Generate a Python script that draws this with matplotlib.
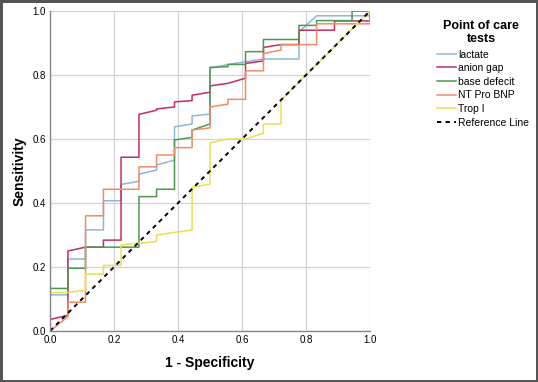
import matplotlib.pyplot as plt

plt.rcParams['font.family'] = ['Liberation Sans', 'DejaVu Sans']

# ROC curve vertices (1 - specificity, sensitivity)
lactate_x = [0, 0, 0.056, 0.056, 0.111, 0.111, 0.167, 0.167, 0.222, 0.222, 0.278, 0.278,
             0.333, 0.333, 0.389, 0.389, 0.444, 0.444, 0.5, 0.5, 0.556, 0.667, 0.778, 0.778,
             0.833, 1.0, 1.0]
lactate_y = [0, 0.113, 0.113, 0.225, 0.225, 0.316, 0.316, 0.407, 0.407, 0.458, 0.468, 0.49,
             0.503, 0.519, 0.534, 0.638, 0.647, 0.672, 0.678, 0.821, 0.833, 0.85, 0.85, 0.935,
             0.985, 0.985, 1.0]

anion_x = [0, 0, 0.056, 0.056, 0.111, 0.167, 0.167, 0.222, 0.222, 0.278, 0.278, 0.333, 0.333,
           0.389, 0.389, 0.444, 0.444, 0.5, 0.5, 0.556, 0.611, 0.611, 0.667, 0.667, 0.722,
           0.778, 0.778, 0.889, 0.889, 1.0, 1.0]
anion_y = [0, 0.036, 0.049, 0.25, 0.262, 0.262, 0.284, 0.284, 0.543, 0.543, 0.677, 0.69, 0.694,
           0.70, 0.716, 0.72, 0.737, 0.746, 0.766, 0.774, 0.79, 0.836, 0.844, 0.886, 0.895,
           0.895, 0.94, 0.94, 0.969, 0.969, 1.0]

base_x = [0, 0, 0.056, 0.056, 0.111, 0.111, 0.278, 0.278, 0.333, 0.333, 0.389, 0.389, 0.444,
          0.444, 0.5, 0.5, 0.556, 0.556, 0.611, 0.611, 0.667, 0.667, 0.778, 0.778, 0.833,
          0.833, 0.944, 0.944, 1.0]
base_y = [0, 0.133, 0.133, 0.196, 0.196, 0.262, 0.262, 0.42, 0.42, 0.443, 0.443, 0.597, 0.605,
          0.628, 0.647, 0.824, 0.826, 0.833, 0.833, 0.873, 0.873, 0.911, 0.911, 0.955, 0.955,
          0.970, 0.970, 1.0, 1.0]

bnp_x = [0, 0.056, 0.056, 0.111, 0.111, 0.167, 0.167, 0.278, 0.278, 0.333, 0.333, 0.389, 0.389,
         0.444, 0.444, 0.5, 0.5, 0.556, 0.556, 0.611, 0.611, 0.667, 0.667, 0.722, 0.722, 0.833,
         0.833, 1.0, 1.0]
bnp_y = [0, 0.045, 0.09, 0.09, 0.36, 0.36, 0.443, 0.443, 0.513, 0.513, 0.55, 0.55, 0.573, 0.573,
         0.628, 0.635, 0.70, 0.709, 0.724, 0.724, 0.813, 0.813, 0.867, 0.878, 0.895, 0.895,
         0.96, 0.96, 1.0]

trop_x = [0, 0, 0.056, 0.111, 0.111, 0.167, 0.167, 0.222, 0.222, 0.278, 0.333, 0.333, 0.444,
          0.444, 0.5, 0.5, 0.556, 0.611, 0.667, 0.667, 0.722, 0.722, 1.0]
trop_y = [0, 0.12, 0.12, 0.128, 0.178, 0.178, 0.205, 0.205, 0.269, 0.274, 0.28, 0.30, 0.316,
          0.449, 0.459, 0.588, 0.60, 0.60, 0.618, 0.647, 0.647, 0.722, 1.0]

ref_x = [0, 1]
ref_y = [0, 1]

fig = plt.figure(figsize=(5.38, 3.82), dpi=100)
fig.patch.set_edgecolor('#555555')
fig.patch.set_linewidth(2.5)
ax = fig.add_axes([50 / 538, 51 / 382, 320 / 538, 320 / 382])

ax.plot(lactate_x, lactate_y, color='#8fb6d8', lw=1.1, label='lactate')
ax.plot(anion_x, anion_y, color='#c0305c', lw=1.1, label='anion gap')
ax.plot(base_x, base_y, color='#4f9850', lw=1.1, label='base defecit')
ax.plot(bnp_x, bnp_y, color='#f08c68', lw=1.1, label='NT Pro BNP')
ax.plot(trop_x, trop_y, color='#e8e050', lw=1.1, label='Trop I')
ax.plot(ref_x, ref_y, color='black', lw=1.4, ls=(0, (2.2, 2.2)), label='Reference Line')

ax.set_xlim(0, 1)
ax.set_ylim(0, 1)
ticks = [0, 0.2, 0.4, 0.6, 0.8, 1.0]
ax.set_xticks(ticks)
ax.set_yticks(ticks)
ax.set_xticklabels([f'{t:.1f}' for t in ticks])
ax.set_yticklabels([f'{t:.1f}' for t in ticks])
ax.tick_params(labelsize=7, length=0, pad=3)
ax.grid(True, color='#d4d4d4', lw=0.9)
ax.set_axisbelow(True)
for s in ['top', 'right']:
    ax.spines[s].set_visible(False)
for s in ['left', 'bottom']:
    ax.spines[s].set_color('#888888')
    ax.spines[s].set_linewidth(1.0)

ax.set_xlabel('1 - Specificity', fontsize=10, fontweight='bold', labelpad=8)
ax.set_ylabel('Sensitivity', fontsize=10, fontweight='bold', labelpad=4)

# legend title drawn separately so its gap to the entries can match
fig.text(481 / 538, 1 - 32.5 / 382, 'Point of care\ntests', ha='center', va='center',
         fontsize=9, fontweight='bold', linespacing=1.05)
fig.legend(loc='upper left', bbox_to_anchor=(437 / 538, 1 - 49.5 / 382), frameon=False,
           fontsize=7.5, handlelength=1.8, handletextpad=0.25, labelspacing=0.35,
           borderpad=0, borderaxespad=0)

fig.savefig('out.png', dpi=100, edgecolor=fig.get_edgecolor())
